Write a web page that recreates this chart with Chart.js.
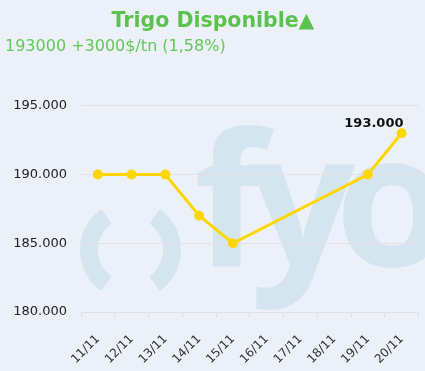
<!DOCTYPE html>
<html>
<head>
<meta charset="utf-8">
<script src="https://cdn.jsdelivr.net/npm/chart.js@4"></script>
<style>
  html, body { margin: 0; padding: 0; background: #ecf1f9; }
  #wrap { width: 425px; height: 371px; }
</style>
</head>
<body>
<div id="wrap"><canvas id="chart"></canvas></div>
<script>
// ===== DATOS =====
const fechas = ['11/11', '12/11', '13/11', '14/11', '15/11', '16/11', '17/11', '18/11', '19/11', '20/11'];
const precios = [190000, 190000, 190000, 187000, 185000, null, null, null, 190000, 193000];
const yTicks = [180000, 185000, 190000, 195000];

const titulo = 'Trigo Disponible\u25B2';
const subtitulo = '193000 +3000$/tn (1,58%)';

// Formato con punto de miles
function fmt(v) {
    return Math.round(v).toString().replace(/\B(?=(\d{3})+(?!\d))/g, '.');
}

// Fondo y marca de agua "fyo"
const fondo = {
    id: 'fondo',
    beforeDraw(chart) {
        const ctx = chart.ctx;
        ctx.save();
        ctx.fillStyle = '#ecf1f9';
        ctx.fillRect(0, 0, chart.width, chart.height);

        ctx.strokeStyle = '#d4e5ef';
        ctx.fillStyle = '#d4e5ef';
        ctx.lineWidth = 18;
        ctx.beginPath();
        ctx.arc(130.5, 250, 41.5, Math.PI - 0.95, Math.PI + 0.95);
        ctx.stroke();
        ctx.beginPath();
        ctx.arc(130.5, 250, 41.5, -0.95, 0.95);
        ctx.stroke();

        ctx.font = 'bold 185px "Open Sans"';
        ctx.textBaseline = 'alphabetic';
        ctx.fillText('f', 194, 266);
        ctx.fillText('y', 250, 266);
        ctx.fillText('o', 335, 266);
        ctx.restore();
    }
};

// Etiqueta del último valor
const etiqueta = {
    id: 'etiqueta',
    afterDatasetsDraw(chart) {
        const meta = chart.getDatasetMeta(0);
        const i = precios.length - 1;
        const p = meta.data[i];
        const ctx = chart.ctx;
        ctx.save();
        ctx.font = 'bold 13px "DejaVu Sans"';
        ctx.fillStyle = '#111';
        ctx.textAlign = 'right';
        ctx.textBaseline = 'middle';
        ctx.fillText(fmt(precios[i]), chart.chartArea.right - 15, p.y - 10);
        ctx.restore();
    }
};

const ctx = document.getElementById('chart');
new Chart(ctx, {
    type: 'line',
    data: {
        labels: fechas,
        datasets: [{
            data: precios,
            borderColor: '#ffd700',
            backgroundColor: '#ffd700',
            borderWidth: 3,
            pointRadius: 3.5,
            pointHoverRadius: 3.5,
            spanGaps: true,
            tension: 0
        }]
    },
    options: {
        responsive: true,
        maintainAspectRatio: false,
        animation: false,
        layout: { padding: { left: 5, right: 4, top: 0, bottom: 0 } },
        plugins: {
            legend: { display: false },
            tooltip: { enabled: false },
            title: {
                display: true,
                text: titulo,
                color: '#5cc24e',
                font: { family: 'DejaVu Sans', size: 20.5, weight: 'bold' },
                padding: { top: 9, bottom: 4 }
            },
            subtitle: {
                display: true,
                text: subtitulo,
                align: 'start',
                color: '#62c856',
                font: { family: 'DejaVu Sans', size: 16 },
                padding: { top: 0, bottom: 49 }
            }
        },
        scales: {
            x: {
                offset: true,
                afterFit(axis) {
                    axis.height = 59;
                    axis.paddingLeft = 0;
                    axis.paddingRight = 0;
                },
                grid: { display: true, drawOnChartArea: false, offset: true, tickLength: 5, color: '#dcdcdc' },
                border: { color: '#e0e0e0' },
                ticks: {
                    color: '#333',
                    padding: 15,
                    font: { family: 'DejaVu Sans', size: 12 },
                    maxRotation: 45,
                    minRotation: 45,
                    autoSkip: false
                }
            },
            y: {
                min: 180000,
                max: 195000,
                afterBuildTicks(axis) { axis.ticks = yTicks.map(v => ({ value: v })); },
                afterFit(axis) { axis.width = 76; },
                grid: { color: '#e2e2e2', drawTicks: false },
                border: { display: false },
                ticks: {
                    color: '#222',
                    padding: 14,
                    font: { family: 'DejaVu Sans', size: 13 },
                    callback: v => fmt(v)
                }
            }
        }
    },
    plugins: [fondo, etiqueta]
});
</script>
</body>
</html>
